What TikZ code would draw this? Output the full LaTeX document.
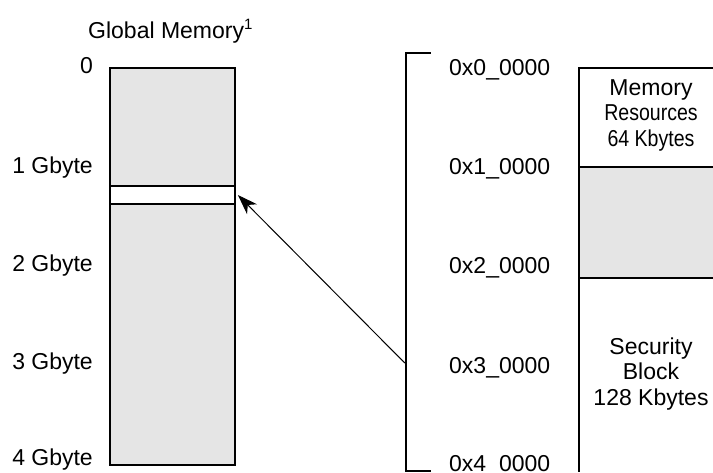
\documentclass[tikz,border=0pt]{standalone}
\usepackage{fontspec}
\setmainfont{Liberation Sans}
\usetikzlibrary{positioning,arrows.meta}
\tikzset{
  lbl/.style={font=\fontsize{23}{25.5}\selectfont, inner sep=0pt},
  blk/.style={draw, line width=1.8pt, fill=gray!20, inner sep=0pt},
  edge/.style={line width=1.8pt},
}
\begin{document}
\begin{tikzpicture}[x=1pt,y=1pt]
  \useasboundingbox (0,0) rectangle (713,472);
  % global memory
  \node[lbl, anchor=base west] (title) at (88,433.5)
    {Global Memory\raisebox{8.5pt}{\fontsize{15}{15}\selectfont 1}};
  \node[blk, minimum width=125pt, minimum height=397.3pt] (gmem) at (172.5,205.5) {};
  \node[blk, fill=white, minimum width=125pt, minimum height=18pt] (win) at (172.5,277) {};
  \node[lbl, anchor=base east] (g0) at (93,398.5) {0};
  \node[lbl, anchor=base east] (g1) at (93,298.5) {1 Gbyte};
  \node[lbl, anchor=base east] (g2) at (93,200.5) {2 Gbyte};
  \node[lbl, anchor=base east] (g3) at (93,102.5) {3 Gbyte};
  \node[lbl, anchor=base east] (g4) at (93,6.5) {4 Gbyte};
  % bracket and addresses
  \draw[edge] (430.7,418.7) -- (405.7,418.7) -- (405.7,1.3) -- (430.7,1.3);
  \coordinate (tap) at (404.8,109);
  \node[lbl, anchor=base west] (a0) at (449,396) {0x0\_0000};
  \node[lbl, anchor=base west] (a1) at (449,297) {0x1\_0000};
  \node[lbl, anchor=base west] (a2) at (449,198.3) {0x2\_0000};
  \node[lbl, anchor=base west] (a3) at (449,98.3) {0x3\_0000};
  \node[lbl, anchor=base west] (a4) at (449,0.5) {0x4\_0000};
  \draw[line width=1pt, -{Stealth[length=20pt,width=14pt,inset=6pt]}] (tap) -- ([xshift=2pt]win.east);
  % security block map
  \fill[gray!20] (579,194.3) rectangle (713,304.7);
  \draw[edge] (713,404.3) -- (579,404.3) -- (579,0);
  \draw[edge] (579,304.7) -- (713,304.7);
  \draw[edge] (579,194.3) -- (713,194.3);
  \node[lbl, align=center] (memres) at (651,357)
    {Memory\\\scalebox{0.85}[1]{Resources}\\\scalebox{0.85}[1]{64 Kbytes}};
  \node[lbl, align=center] (secblk) at (651,98)
    {Security\\Block\\128 Kbytes};
\end{tikzpicture}
\end{document}
